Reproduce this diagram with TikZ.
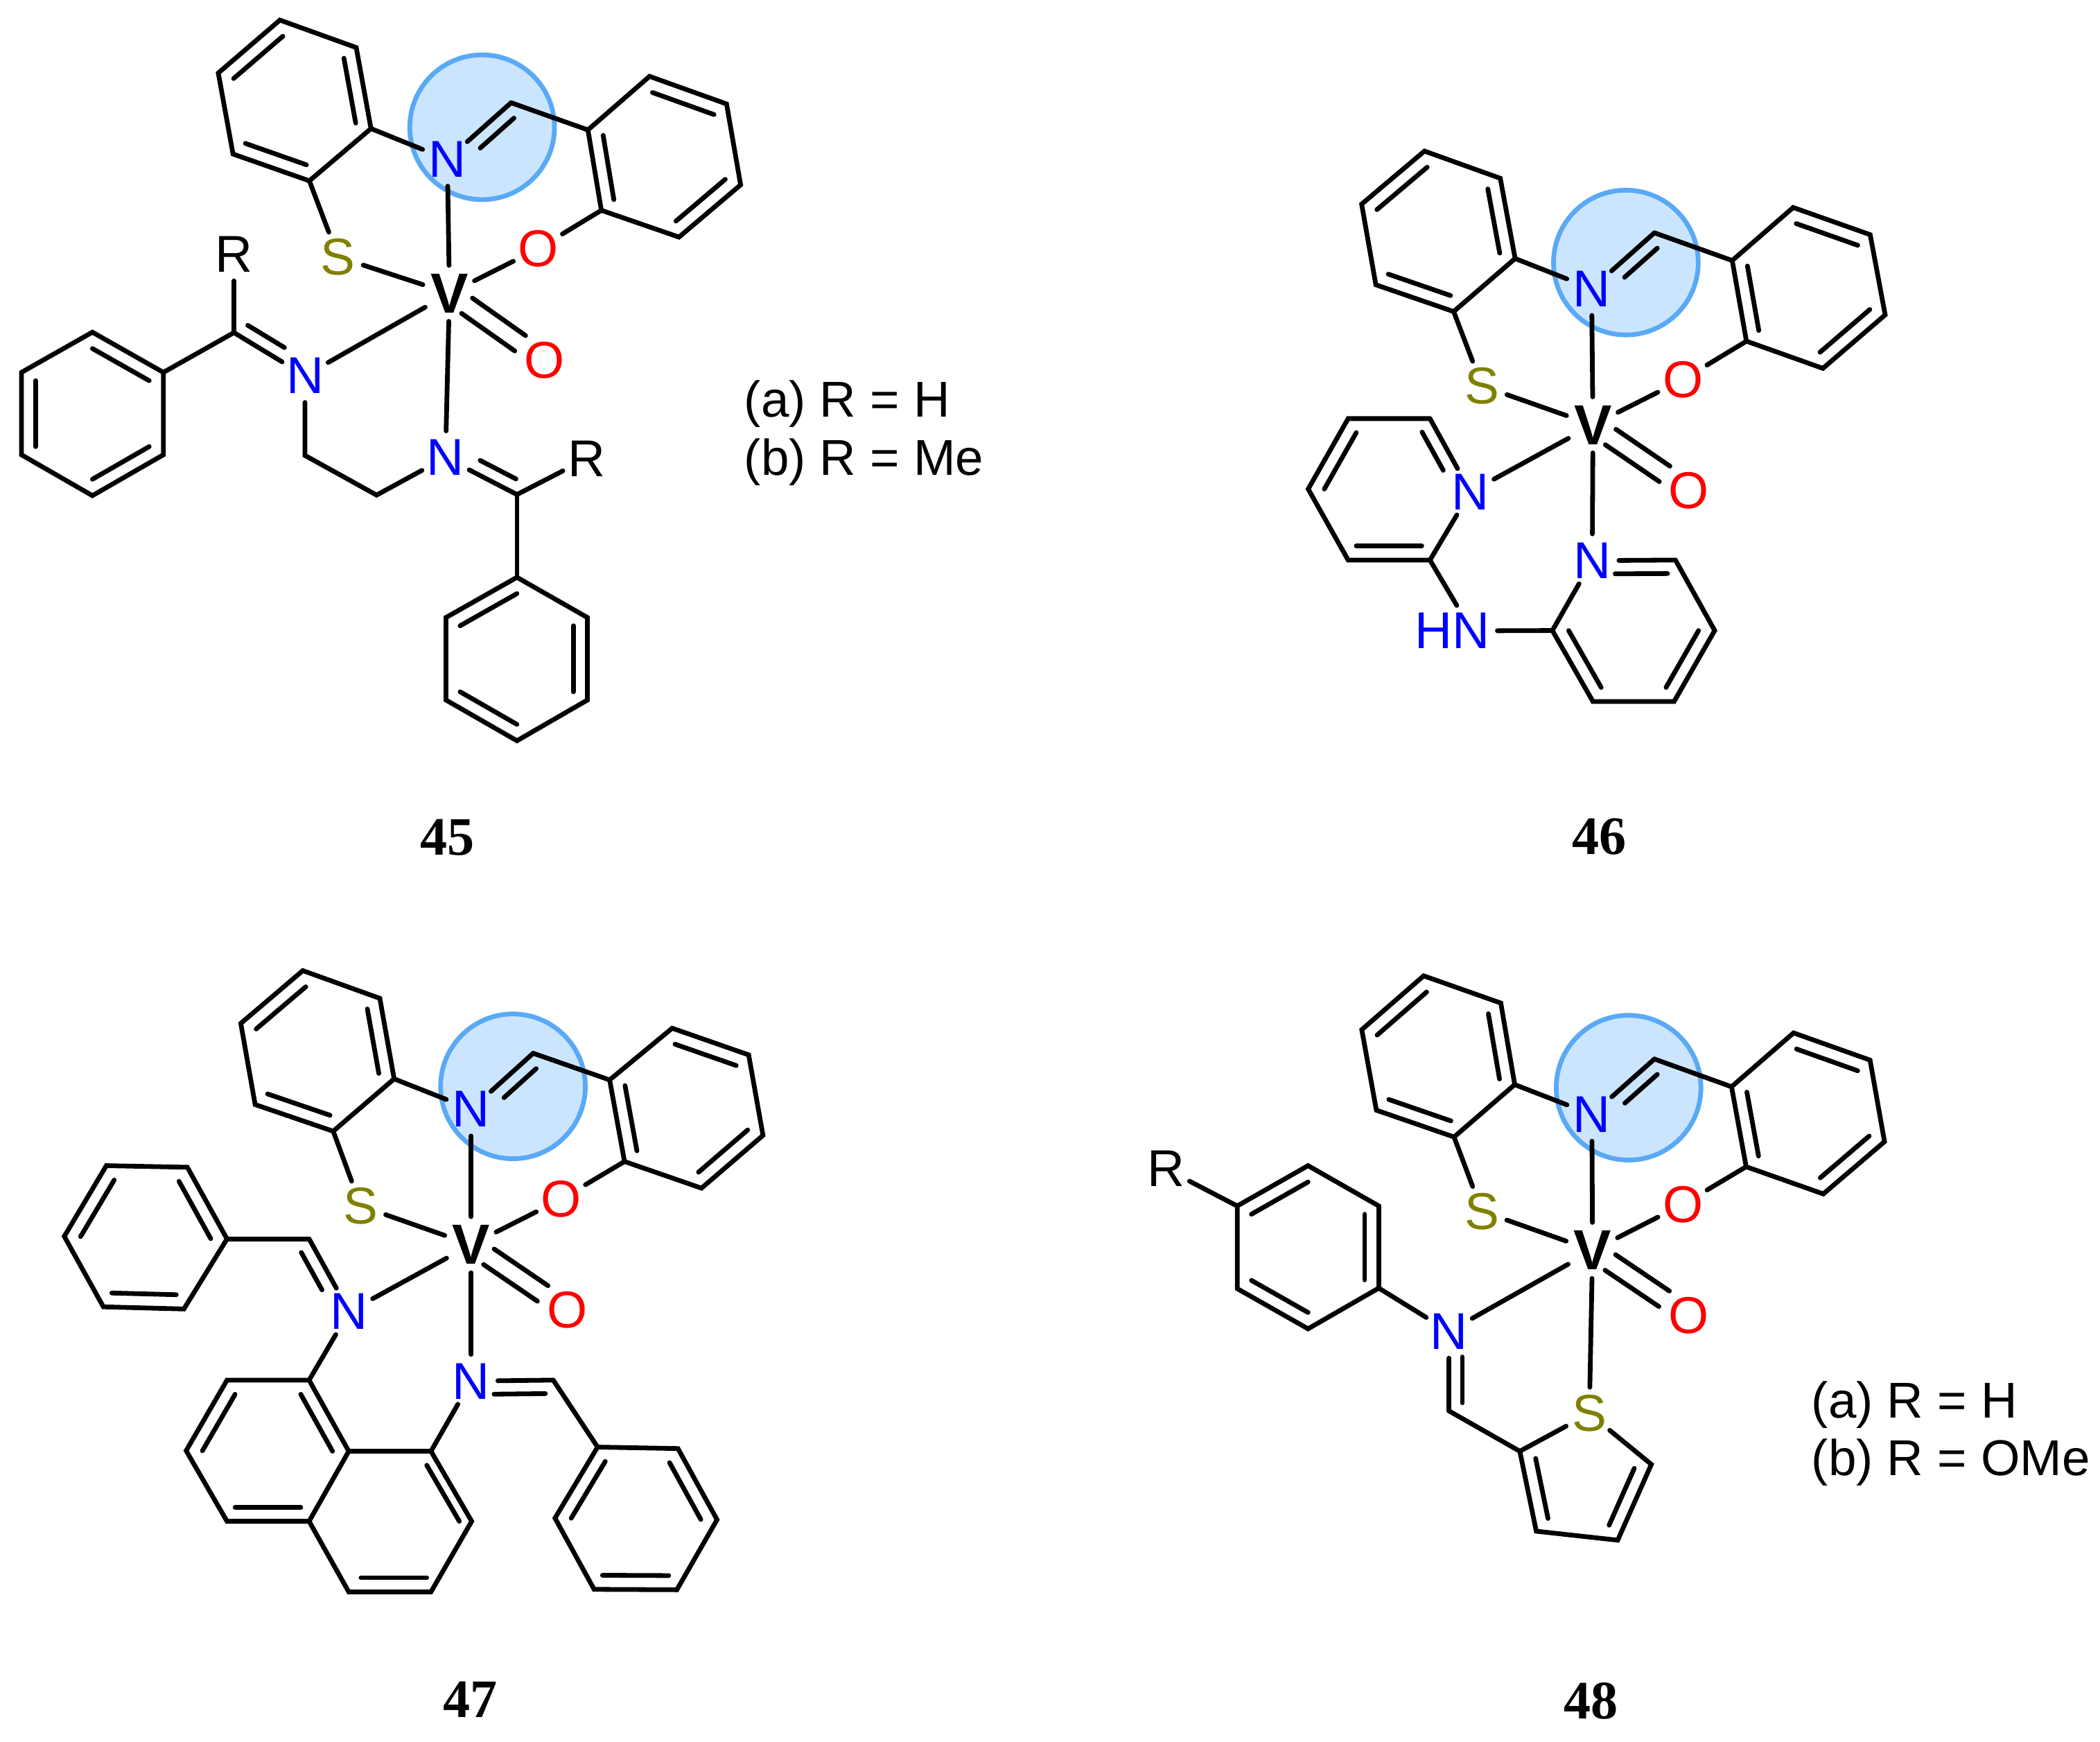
\documentclass[tikz,border=0pt]{standalone}
\usepackage{fontspec}
\setmainfont{Liberation Sans}
\newfontfamily\cmpdfont{Liberation Serif}
\usetikzlibrary{calc}

\definecolor{sulfur}{RGB}{128,128,0}
\definecolor{hilitefill}{RGB}{204,229,255}
\definecolor{hiliteline}{RGB}{90,169,245}

\tikzset{
  bond/.style={line width=1pt, line cap=round},
  atom/.style={circle, inner sep=0pt, minimum size=0.38cm, font=\fontsize{11}{12}\selectfont},
  natom/.style={atom, text=blue},
  oatom/.style={atom, text=red},
  satom/.style={atom, text=sulfur},
  vatom/.style={atom, font=\fontsize{12}{13}\selectfont\bfseries},
  hnatom/.style={rectangle, inner sep=0.05cm, text=blue, font=\fontsize{11}{12}\selectfont},
  hilite/.style={circle, draw=hiliteline, fill=hilitefill, line width=1pt, inner sep=0pt, minimum size=1.08cm},
  cmpd/.style={inner sep=0pt, font=\fontsize{11.5}{13}\cmpdfont\bfseries},
  legend/.style={inner sep=0pt, anchor=base west, font=\fontsize{10.7}{12}\selectfont}
}

% inner line of a ring double bond
\newcommand{\inring}[4][.2]{\draw[bond] ($(#2)!#1!(#4)$) -- ($(#3)!#1!(#4)$);}
% line parallel to a bond
\newcommand{\sidebond}[5]{\draw[bond, shorten <=#4, shorten >=#5] ($(#1.center)!#3!90:(#2.center)$) -- ($(#2.center)!#3!-90:(#1.center)$);}
% N=C with its second line on one side
\newcommand{\cnbond}[4][.24cm]{\draw[bond] (#2) -- (#3); \sidebond{#2}{#3}{#4}{#1}{.06cm}}
% V=O
\newcommand{\vobond}[2]{\sidebond{#1}{#2}{.07cm}{.16cm}{.22cm} \sidebond{#1}{#2}{-.07cm}{.16cm}{.22cm}}
% benzene ring, double bonds on 1-2, 3-4, 5-6
\newcommand{\hexring}[7]{%
  \coordinate (#11) at (#2); \coordinate (#12) at (#3); \coordinate (#13) at (#4);
  \coordinate (#14) at (#5); \coordinate (#15) at (#6); \coordinate (#16) at (#7);
  \coordinate (#1c) at ($(#11)!.5!(#14)$);
  \draw[bond] (#11) -- (#12) -- (#13) -- (#14) -- (#15) -- (#16) -- cycle;
  \inring{#11}{#12}{#1c} \inring{#13}{#14}{#1c} \inring{#15}{#16}{#1c}}

\begin{document}
\begin{tikzpicture}[x=0.01cm, y=-0.01cm]
  \useasboundingbox (0,0) rectangle (1568,1300);

  % Compound 45
  \node[hilite] (h45) at (360,95) {};
  \hexring{aa}{266,35.5}{277,96}{231,135}{174,115}{163,54.5}{209,15}
  \hexring{ab}{449,157}{439,97}{485,57}{542.5,77.6}{553,138}{507,177}
  \hexring{ac}{69,248}{122,278}{122,339.5}{69,370}{16,339.5}{16,278}
  \hexring{ad}{333,461}{386,431}{438.6,461}{438.6,522.6}{386,553}{333,522.6}
  \node[vatom] (v45) at (335.6,219) {V};
  \node[natom] (n45a) at (334,119) {N};
  \node[natom] (n45b) at (227.7,280.5) {N};
  \node[natom] (n45c) at (332.6,341.6) {N};
  \node[satom] (s45) at (252.5,191.8) {S};
  \node[oatom] (o45a) at (402,185.6) {O};
  \node[oatom] (o45b) at (406.4,269) {O};
  \node[atom] (r45a) at (174.7,189.8) {R};
  \node[atom] (r45b) at (438,342.4) {R};
  \coordinate (c45a) at (381.6,76.7);
  \coordinate (c45b) at (174.7,248.3);
  \coordinate (c45c) at (386,369.2);
  \coordinate (c45d) at (227.7,340);
  \coordinate (c45e) at (281.2,369.6);
  \draw[bond] (aa2) -- (n45a);
  \draw[bond] (aa3) -- (s45);
  \draw[bond] (ab1) -- (o45a);
  \draw[bond] (ab2) -- (c45a);
  \draw[bond] (s45) -- (v45);
  \draw[bond] (n45a) -- (v45);
  \draw[bond] (o45a) -- (v45);
  \draw[bond] (n45b) -- (v45);
  \draw[bond] (n45c) -- (v45);
  \draw[bond] (ac2) -- (c45b);
  \draw[bond] (r45a) -- (c45b);
  \draw[bond] (n45b) -- (c45d) -- (c45e) -- (n45c);
  \draw[bond] (r45b) -- (c45c);
  \draw[bond] (c45c) -- (ad2);
  \cnbond{n45a}{c45a}{-.1cm}
  \cnbond{n45b}{c45b}{-.1cm}
  \cnbond{n45c}{c45c}{.1cm}
  \vobond{v45}{o45b}
  \node[legend] (ra45) at (555,311.4) {(a) R = H};
  \node[legend] (rb45) at (555,354.8) {(b) R = Me};
  \node[cmpd] (l45) at (334,625) {45};

  % Compound 46
  \node[hilite] (h46) at (1214,196) {};
  \hexring{ba}{1120.2,133.1}{1131.3,193}{1085.4,232.6}{1027.3,212.6}{1016.7,152.4}{1063.6,112.8}
  \hexring{bb}{1304,254.7}{1293.4,194.5}{1338.9,154.9}{1396.4,175.2}{1407.6,235.1}{1361.1,275}
  \node[vatom] (v46) at (1189.4,317.2) {V};
  \node[natom] (n46a) at (1188.4,215.5) {N};
  \node[natom] (n46b) at (1098,367.3) {N};
  \node[natom] (n46c) at (1188.9,418.5) {N};
  \node[hnatom] (hn46) at (1084.4,471) {HN};
  \node[satom] (s46) at (1106.6,288.1) {S};
  \node[oatom] (o46a) at (1256.6,283.4) {O};
  \node[oatom] (o46b) at (1261.1,366.2) {O};
  \coordinate (c46a) at (1235.3,173.8);
  \coordinate (c46b) at (1067.7,312.5);
  \coordinate (c46c) at (1006.6,312.5);
  \coordinate (c46d) at (976.8,365.1);
  \coordinate (c46e) at (1006.6,418.1);
  \coordinate (c46f) at (1067.7,418.1);
  \coordinate (c46g) at (1037,365);
  \coordinate (c46h) at (1251,418.1);
  \coordinate (c46i) at (1280.3,470.7);
  \coordinate (c46j) at (1250,523.7);
  \coordinate (c46k) at (1189.4,523.7);
  \coordinate (c46l) at (1159.1,470.7);
  \coordinate (c46m) at (1220,471);
  \draw[bond] (ba2) -- (n46a);
  \draw[bond] (ba3) -- (s46);
  \draw[bond] (bb1) -- (o46a);
  \draw[bond] (bb2) -- (c46a);
  \draw[bond] (s46) -- (v46);
  \draw[bond] (n46a) -- (v46);
  \draw[bond] (o46a) -- (v46);
  \draw[bond] (n46b) -- (v46);
  \draw[bond] (n46c) -- (v46);
  \draw[bond] (c46b) -- (c46c) -- (c46d) -- (c46e) -- (c46f) -- (n46b);
  \draw[bond] (c46h) -- (c46i) -- (c46j) -- (c46k) -- (c46l) -- (n46c);
  \draw[bond] (c46f) -- (hn46.80);
  \draw[bond] (hn46) -- (c46l);
  \inring{c46c}{c46d}{c46g}
  \inring{c46e}{c46f}{c46g}
  \inring{c46i}{c46j}{c46m}
  \inring{c46k}{c46l}{c46m}
  \cnbond{n46a}{c46a}{-.1cm}
  \cnbond{n46b}{c46b}{.1cm}
  \cnbond[.17cm]{n46c}{c46h}{-.1cm}
  \vobond{v46}{o46b}
  \node[cmpd] (l46) at (1194,624.6) {46};

  % Compound 47
  \node[hilite] (h47) at (383,811) {};
  \hexring{ca}{283.6,745.3}{294.3,805.4}{248.8,844.5}{190.5,824.6}{179.8,764}{226.1,724.6}
  \hexring{cb}{466.3,867.1}{455.2,806.2}{501.9,767.6}{559,787.5}{569.7,847.6}{523.8,887}
  \hexring{cc}{169.5,924.9}{139.9,871.4}{79.4,870.2}{48,923}{77.2,975.6}{137.3,977.2}
  \hexring{cd}{260.4,1083.4}{230.8,1030.3}{169.5,1030.3}{139,1083}{169.5,1135.7}{230.8,1135.7}
  \hexring{ce}{506.2,1081.4}{535.4,1134.5}{505.4,1186.8}{443.6,1186.5}{414.4,1133.3}{446.2,1080.3}
  \node[vatom] (v47) at (351.8,929.2) {V};
  \node[natom] (n47a) at (351.8,828.1) {N};
  \node[natom] (n47b) at (260.8,979.1) {N};
  \node[natom] (n47c) at (351.8,1031) {N};
  \node[satom] (s47) at (269.4,900.3) {S};
  \node[oatom] (o47a) at (419.1,895.2) {O};
  \node[oatom] (o47b) at (423.4,978) {O};
  \coordinate (c47a) at (398.1,786.3);
  \coordinate (c47b) at (230.8,924.9);
  \coordinate (c47c) at (413.1,1030.3);
  \coordinate (c47d) at (321.8,1083.4);
  \coordinate (c47e) at (352.2,1135.7);
  \coordinate (c47f) at (321.8,1188.4);
  \coordinate (c47g) at (260.4,1188.4);
  \coordinate (c47h) at (306,1135.7);
  \draw[bond] (ca2) -- (n47a);
  \draw[bond] (ca3) -- (s47);
  \draw[bond] (cb1) -- (o47a);
  \draw[bond] (cb2) -- (c47a);
  \draw[bond] (s47) -- (v47);
  \draw[bond] (n47a) -- (v47);
  \draw[bond] (o47a) -- (v47);
  \draw[bond] (n47b) -- (v47);
  \draw[bond] (n47c) -- (v47);
  \draw[bond] (cc1) -- (c47b);
  \draw[bond] (n47b) -- (cd2);
  \draw[bond] (n47c) -- (c47d);
  \draw[bond] (c47c) -- (ce6);
  \draw[bond] (cd1) -- (c47d) -- (c47e) -- (c47f) -- (c47g) -- (cd6);
  \inring{c47d}{c47e}{c47h}
  \inring{c47f}{c47g}{c47h}
  \cnbond{n47a}{c47a}{-.1cm}
  \cnbond{n47b}{c47b}{.1cm}
  \cnbond[.17cm]{n47c}{c47c}{-.1cm}
  \vobond{v47}{o47b}
  \node[cmpd] (l47) at (351,1268.8) {47};

  % Compound 48
  \node[hilite] (h48) at (1216,812) {};
  \hexring{da}{1120.6,748.8}{1131,809.7}{1085.7,848.8}{1027.7,828.8}{1016.8,768.7}{1063,728.5}
  \hexring{db}{1303.8,871}{1292.9,811.3}{1339.2,771.1}{1396.3,791.4}{1407.1,852.3}{1361.4,891.3}
  \hexring{dc}{1029.5,900.3}{1029.5,961.6}{976.7,992}{923.8,962}{923.8,900.3}{976.7,870.2}
  \node[vatom] (v48) at (1189.1,933.5) {V};
  \node[natom] (n48a) at (1188.6,832) {N};
  \node[natom] (n48b) at (1081.9,994) {N};
  \node[satom] (s48a) at (1106.5,904.2) {S};
  \node[satom] (s48b) at (1186.7,1055.3) {S};
  \node[oatom] (o48a) at (1256.6,899.1) {O};
  \node[oatom] (o48b) at (1260.8,981.9) {O};
  \node[atom] (r48) at (870.5,872.6) {R};
  \coordinate (c48a) at (1235.3,790.6);
  \coordinate (c48b) at (1081.9,1053.3);
  \coordinate (c48c) at (1134.8,1083.4);
  \coordinate (c48d) at (1147.1,1143.1);
  \coordinate (c48e) at (1207.9,1149.8);
  \coordinate (c48f) at (1233,1093.2);
  \coordinate (c48g) at (1182.1,1105);
  \draw[bond] (da2) -- (n48a);
  \draw[bond] (da3) -- (s48a);
  \draw[bond] (db1) -- (o48a);
  \draw[bond] (db2) -- (c48a);
  \draw[bond] (s48a) -- (v48);
  \draw[bond] (n48a) -- (v48);
  \draw[bond] (o48a) -- (v48);
  \draw[bond] (n48b) -- (v48);
  \draw[bond] (s48b) -- (v48);
  \draw[bond] (dc2) -- (n48b);
  \draw[bond] (dc5) -- (r48);
  \draw[bond] (c48b) -- (c48c);
  \draw[bond] (s48b) -- (c48c) -- (c48d) -- (c48e) -- (c48f) -- (s48b);
  \inring[.25]{c48c}{c48d}{c48g}
  \inring[.25]{c48e}{c48f}{c48g}
  \cnbond{n48a}{c48a}{-.1cm}
  \cnbond[.19cm]{n48b}{c48b}{.1cm}
  \vobond{v48}{o48b}
  \node[legend] (ra48) at (1352,1058.4) {(a) R = H};
  \node[legend] (rb48) at (1352,1101.4) {(b) R = OMe};
  \node[cmpd] (l48) at (1187.7,1270) {48};
\end{tikzpicture}
\end{document}
